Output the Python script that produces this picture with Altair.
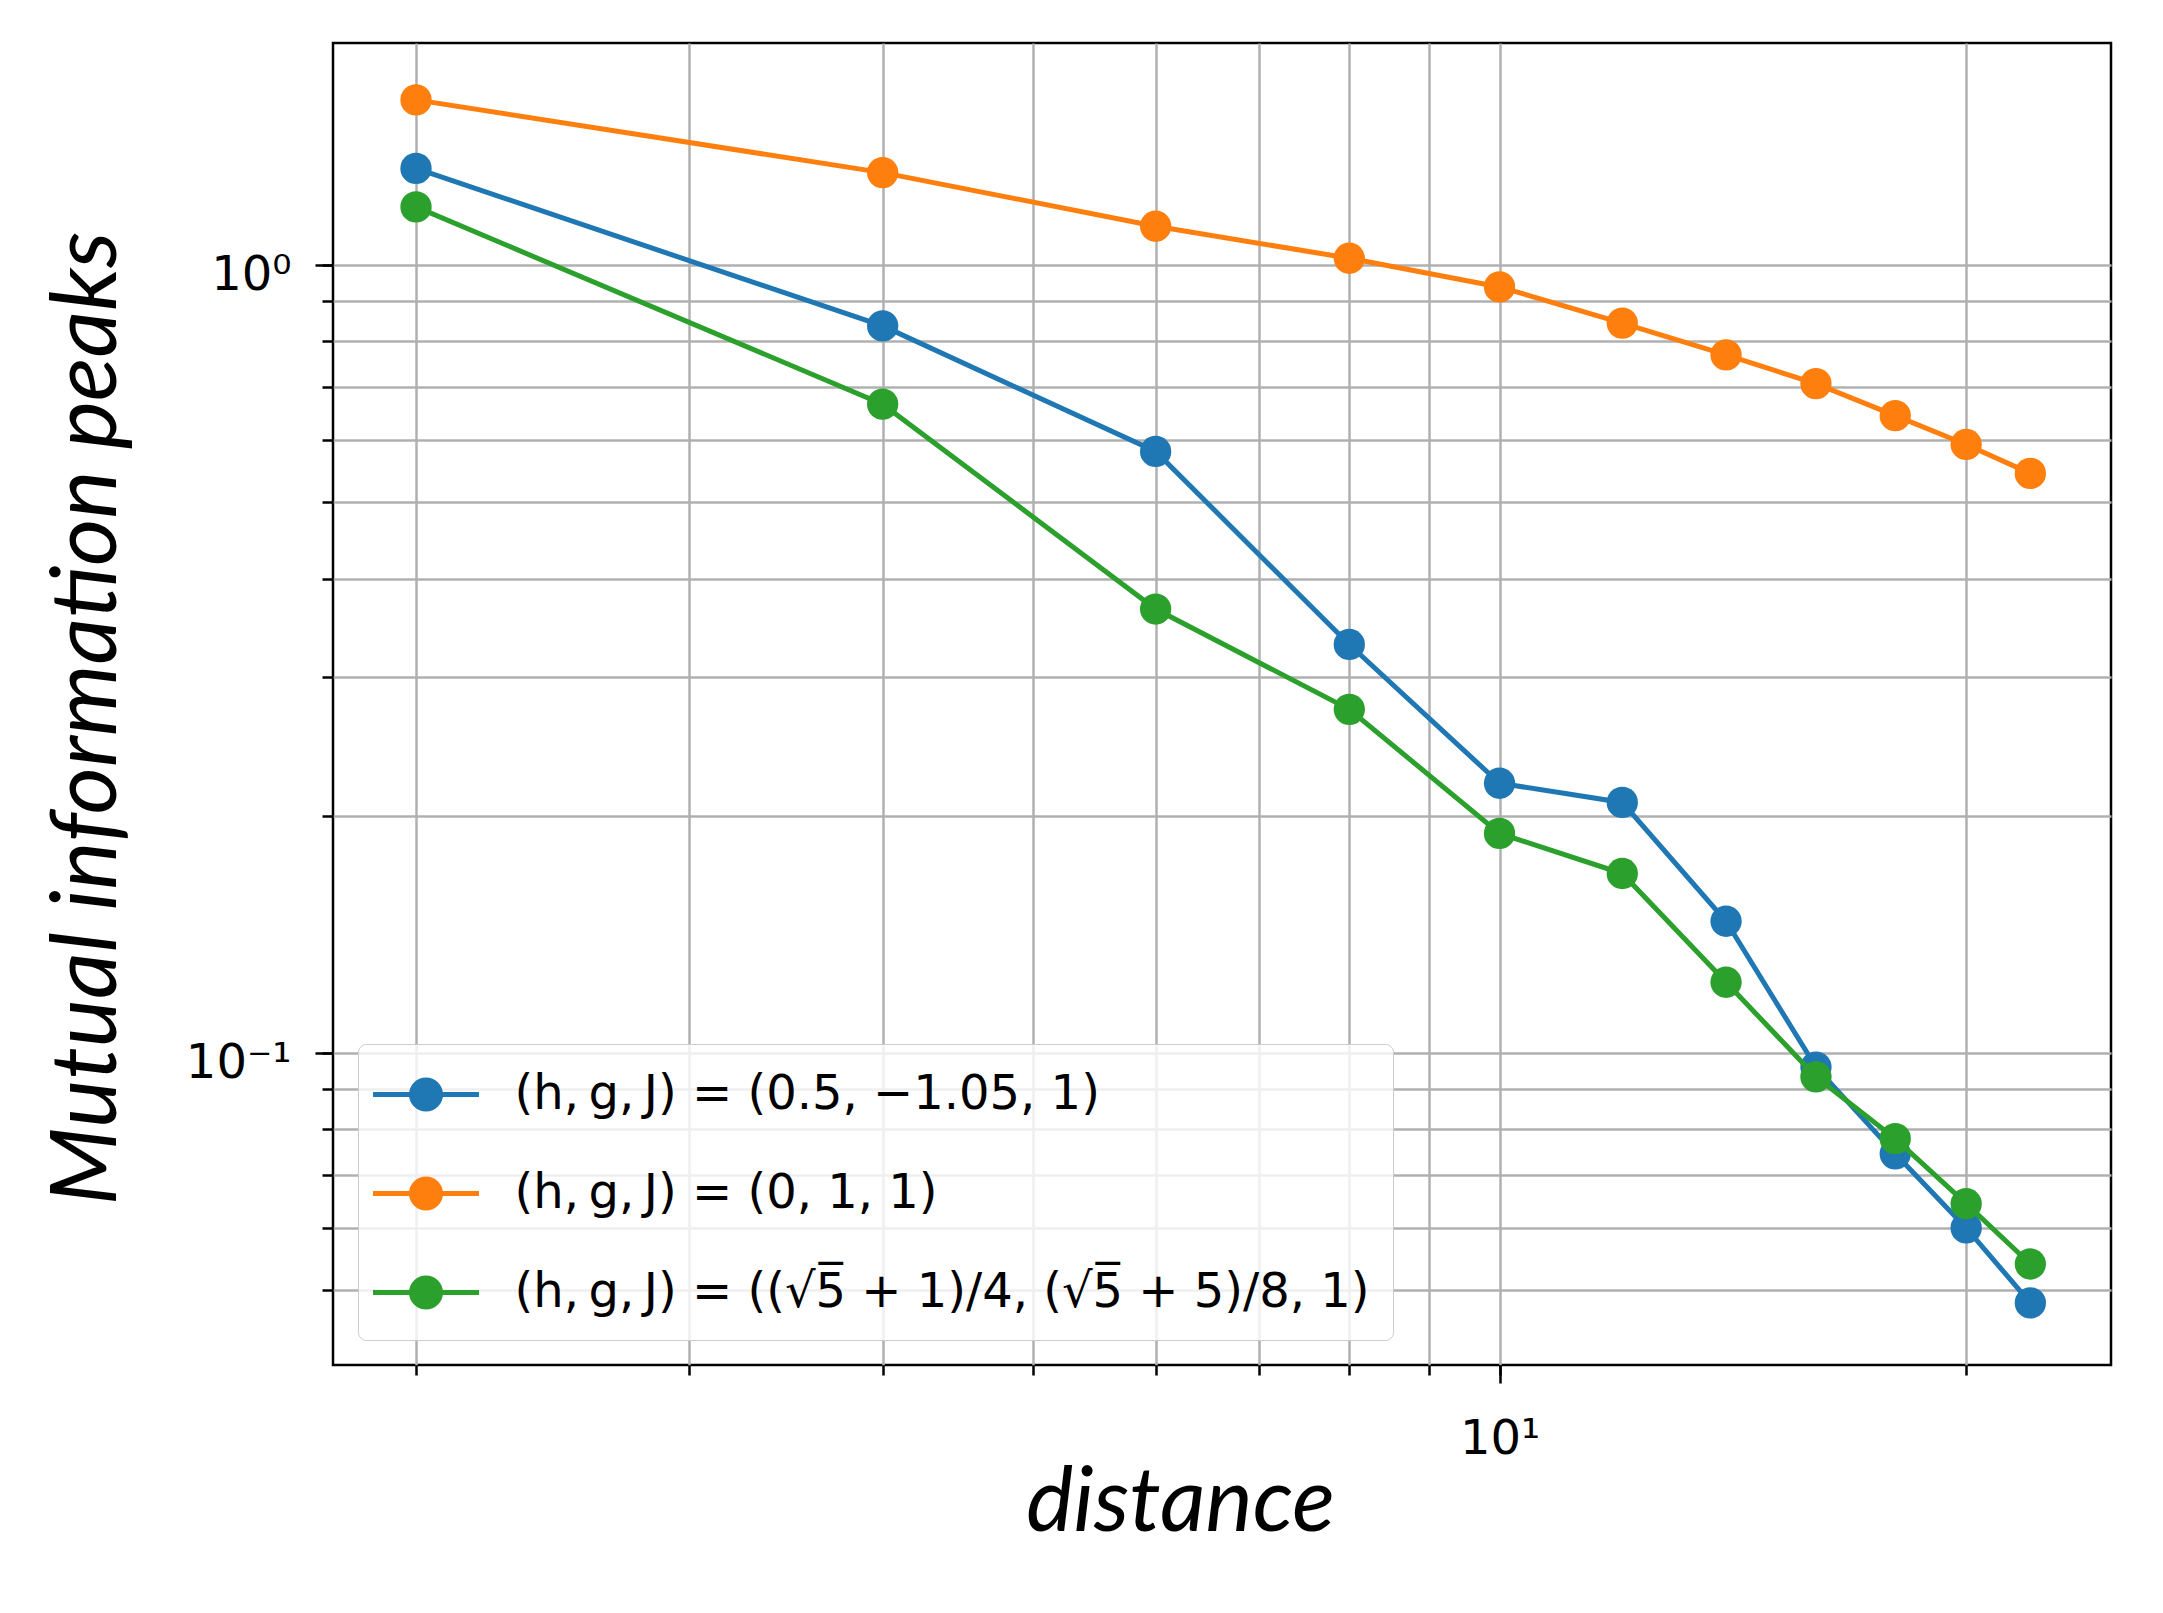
import altair as alt
import pandas as pd

distance = [2, 4, 6, 8, 10, 12, 14, 16, 18, 20, 22]
blue_vals = [1.326, 0.837, 0.580, 0.330, 0.220, 0.208, 0.147, 0.096, 0.0745, 0.060, 0.0482]
orange_vals = [1.62, 1.31, 1.12, 1.02, 0.938, 0.844, 0.769, 0.707, 0.644, 0.592, 0.544]
green_vals = [1.185, 0.666, 0.366, 0.273, 0.190, 0.169, 0.123, 0.0933, 0.0779, 0.0644, 0.054]

series_labels = [
    "(h,\u2009g,\u2009J) = (0.5, −1.05, 1)",
    "(h,\u2009g,\u2009J) = (0, 1, 1)",
    "(h,\u2009g,\u2009J) = ((√5̅ + 1)/4, (√5̅ + 5)/8, 1)",
]
series_colors = ["#1f77b4", "#ff7f0e", "#2ca02c"]

x_minor = [2, 3, 4, 5, 6, 7, 8, 9, 10, 20]
x_major = [10]
y_minor = [0.05, 0.06, 0.07, 0.08, 0.09, 0.1, 0.2, 0.3, 0.4, 0.5, 0.6, 0.7, 0.8, 0.9, 1.0]
y_major = [0.1, 1.0]

rows = []
for lab, vals in zip(series_labels, [blue_vals, orange_vals, green_vals]):
    for d, v in zip(distance, vals):
        rows.append({"distance": d, "value": v, "series": lab})
df = pd.DataFrame(rows)

# legend symbol: a line through a disc (disc built from concentric rings so it shows with stroke only)
rings = [0.58, 0.44, 0.30, 0.16, 0.04]
legend_path = "M-2.12,0H2.12" + "".join(
    f"M{r},0A{r},{r},0,1,1,-{r},0A{r},{r},0,1,1,{r},0Z" for r in rings
)

legend = alt.Legend(
    title=None,
    orient="bottom-left",
    offset=25,
    padding=23,
    fillColor="rgba(255,255,255,0.8)",
    strokeColor="#cccccc",
    cornerRadius=8,
    labelFont="DejaVu Sans",
    labelFontSize=48,
    labelColor="black",
    labelLimit=2000,
    symbolType=legend_path,
    symbolSize=2500,
    symbolStrokeWidth=5,
    symbolOffset=17.5,
    labelOffset=61,
    rowPadding=47,
)

title_font = dict(titleFont="Lato", titleFontStyle="italic", titleFontWeight="normal",
                  titleColor="black")

x_axis_minor = alt.Axis(
    orient="bottom", values=x_minor, labels=False, tickSize=10, grid=True,
    title="distance", titleFontSize=89, titleX=847, titleY=165, titleAlign="center",
    titleBaseline="alphabetic",
    **title_font,
)
x_axis_major = alt.Axis(
    orient="bottom", values=x_major, grid=False, tickSize=18,
    labelExpr="'10¹'", labelOverlap=False, labelFont="DejaVu Sans", labelFontSize=48,
    labelBaseline="alphabetic", labelPadding=70, title=None,
)
y_axis_minor = alt.Axis(
    orient="left", values=y_minor, labels=False, tickSize=11, grid=True,
    title="Mutual information peaks", titleFontSize=91, titleAngle=270, titleX=-218,
    titleY=675, titleAlign="center", titleBaseline="alphabetic",
    **title_font,
)
y_axis_major = alt.Axis(
    orient="left", values=y_major, grid=False, tickSize=18,
    labelExpr="datum.value == 1 ? '10⁰' : '10⁻¹'", labelOverlap=False,
    labelFont="DejaVu Sans", labelFontSize=48, labelBaseline="alphabetic",
    labelAlign="right", labelOffset=24, labelPadding=24, title=None,
)

x_scale = alt.Scale(type="log", domain=[1.768, 24.8], nice=False)
y_scale = alt.Scale(type="log", domain=[0.0402, 1.913], nice=False)
c_enc = alt.Color("series:N", scale=alt.Scale(domain=series_labels, range=series_colors), legend=legend)

base = alt.Chart(df)
layers = []
for i, lab in enumerate(series_labels):
    sub = base.transform_filter(alt.datum.series == lab)
    if i == 0:
        xa_l, ya_l, xa_p, ya_p = x_axis_minor, y_axis_minor, x_axis_major, y_axis_major
    else:
        xa_l = ya_l = xa_p = ya_p = None
    layers.append(sub.mark_line(strokeWidth=5).encode(
        x=alt.X("distance:Q", scale=x_scale, axis=xa_l),
        y=alt.Y("value:Q", scale=y_scale, axis=ya_l),
        color=c_enc))
    layers.append(sub.mark_point(filled=True, size=980, opacity=1).encode(
        x=alt.X("distance:Q", scale=x_scale, axis=xa_p),
        y=alt.Y("value:Q", scale=y_scale, axis=ya_p),
        color=c_enc))

chart = alt.layer(*layers).resolve_axis(
    x="independent", y="independent"
).properties(
    width=1778,
    height=1322,
    padding={"left": 325, "top": 35, "right": 44, "bottom": 240},
    autosize=alt.AutoSizeParams(type="none"),
    background="white",
).configure_view(
    stroke="black", strokeWidth=2.5
).configure_axis(
    domain=False,
    gridColor="#b0b0b0",
    gridWidth=2.5,
    tickColor="black",
    tickWidth=2.5,
    labelColor="black",
)

chart.save("out.html", embed_options={"renderer": "svg", "actions": False})
